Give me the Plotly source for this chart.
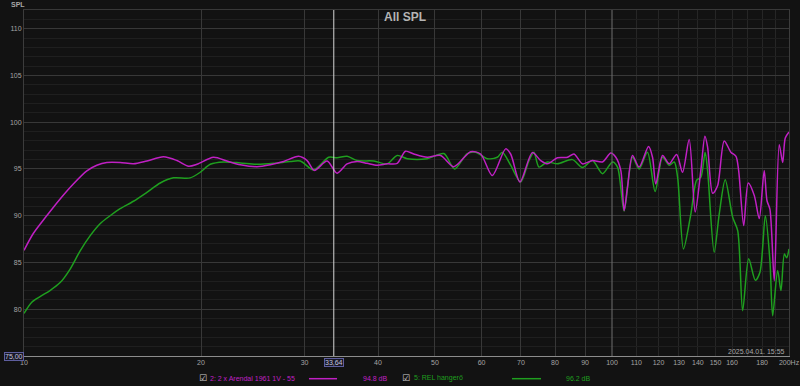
import numpy as np
import plotly.graph_objects as go

# ---------------- data ----------------
freq_arendal = [10.0, 10.37, 10.93, 11.52, 12.13, 12.79, 13.30, 13.83, 14.57, 15.35,
                16.18, 17.27, 18.20, 19.05, 19.68, 21.0, 22.14, 23.33, 24.90, 26.24,
                27.64, 29.32, 30.30, 31.18, 32.77, 34.08, 35.44, 36.86, 38.33, 39.87,
                41.46, 43.12, 44.55, 46.02, 48.50, 51.10, 53.84, 57.48, 59.78, 62.58,
                65.93, 67.24, 69.74, 73.21, 75.63, 77.65, 80.75, 83.98, 86.18, 89.07,
                92.63, 96.33, 99.52, 101.5, 103.5, 104.85, 106.25, 108.36, 111.2, 115.4,
                117.2, 118.7, 121.9, 125.1, 128.8, 131.8, 135.3, 138.5, 141.6, 143.9,
                145.4, 148.3, 151.2, 155.2, 159.3, 162.5, 164.2, 167.5, 170.5, 174.6,
                178.0, 181.5, 183.5, 185.6, 188.8, 192.5, 195.1, 197.1, 200.0]
spl_arendal = [86.3, 88.1, 90.0, 91.8, 93.4, 94.8, 95.4, 95.7, 95.7, 95.55,
               95.85, 96.3, 95.9, 95.3, 95.5, 96.25, 95.85, 95.45, 95.25, 95.45,
               95.8, 96.35, 95.9, 94.85, 95.85, 94.55, 95.55, 95.8, 95.6, 95.4,
               95.55, 95.6, 96.9, 96.6, 96.25, 96.45, 95.25, 96.85, 96.6, 94.3,
               97.15, 96.6, 93.6, 96.75, 95.9, 95.55, 96.2, 96.25, 96.6, 95.55,
               95.9, 95.75, 96.7, 96.25, 94.85, 90.55, 93.05, 96.45, 95.2, 97.4,
               96.25, 93.4, 96.45, 95.55, 96.55, 94.65, 98.15, 90.4, 94.85, 98.5,
               97.35, 92.4, 93.2, 98.0, 96.8, 96.35, 94.85, 88.95, 93.5, 92.15,
               89.7, 94.85, 91.6, 90.7, 83.05, 97.6, 95.7, 98.3, 98.95]

freq_rel = [10.0, 10.31, 10.65, 11.07, 11.52, 11.98, 12.46, 12.95, 13.47, 14.01,
            14.57, 15.35, 16.18, 17.05, 17.96, 19.17, 19.94, 20.74, 21.85, 23.33,
            24.90, 26.58, 28.38, 29.51, 31.09, 32.98, 34.08, 35.44, 36.86, 39.34,
            41.46, 43.12, 44.84, 48.50, 51.77, 53.98, 56.74, 58.62, 61.37, 63.82,
            65.09, 67.24, 69.93, 72.24, 73.67, 75.13, 77.65, 80.75, 85.64, 89.07,
            92.63, 96.33, 100.2, 102.2, 104.85, 108.36, 111.2, 114.9, 118.4, 121.9,
            125.1, 127.6, 129.3, 132.3, 136.2, 139.3, 141.6, 144.0, 145.4, 149.2,
            152.2, 155.8, 160.4, 163.6, 166.8, 170.8, 175.3, 178.5, 182.3, 185.6,
            187.6, 191.3, 193.8, 196.4, 198.2, 200.0]
spl_rel = [79.55, 80.75, 81.35, 82.0, 82.85, 84.3, 86.25, 87.85, 89.15, 90.0,
           90.75, 91.55, 92.5, 93.5, 94.05, 94.05, 94.65, 95.5, 95.75, 95.65,
           95.5, 95.6, 95.8, 95.85, 94.9, 96.25, 96.2, 96.35, 95.9, 95.85,
           95.55, 96.45, 96.1, 96.1, 96.65, 95.0, 96.65, 96.8, 96.1, 96.25,
           96.8, 95.4, 93.6, 95.9, 96.8, 95.2, 95.75, 95.55, 96.0, 95.15,
           95.9, 94.5, 95.75, 95.2, 90.5, 96.25, 95.0, 96.8, 92.6, 96.25,
           95.4, 95.75, 94.1, 86.45, 90.2, 93.8, 94.1, 96.8, 94.85, 86.1,
           90.2, 93.85, 89.85, 88.4, 79.85, 85.4, 83.1, 83.95, 90.0, 85.2,
           79.3, 84.15, 82.0, 85.9, 85.5, 86.45]

x_tickvals = [10, 20, 30, 40, 50, 60, 70, 80, 90, 100, 110, 120, 130, 140, 150, 160, 170, 180, 190, 200]
x_ticktext = ["10", "20", "30", "40", "50", "60", "70", "80", "90", "100", "110", "120",
              "130", "140", "150", "160", "", "180", "", "200Hz"]
x_major_grid = [20, 30, 40, 50, 60, 70, 80, 90]
x_fine_grid = [110, 120, 130, 140, 150, 160, 170, 180, 190]
y_tickvals = [80, 85, 90, 95, 100, 105, 110]

series_names = ["2: 2 x Arendal 1961 1V - 55", "5: REL hangerő"]
series_levels = ["94.8 dB", "96.2 dB"]
cursor_freq = 33.64
cursor_spl = "75,00"
title_text = "All SPL"
date_text = "2025.04.01. 15:55"

MAG = "#c020c4"
GRN = "#1f9f1f"
BG = "#121212"
FONT = "Liberation Sans"

fig = go.Figure()
fig.add_trace(go.Scatter(x=freq_rel, y=spl_rel, mode="lines",
                         line=dict(color=GRN, width=1.5, shape="spline", smoothing=0.8),
                         hoverinfo="skip", showlegend=False))
fig.add_trace(go.Scatter(x=freq_arendal, y=spl_arendal, mode="lines",
                         line=dict(color=MAG, width=1.5, shape="spline", smoothing=0.8),
                         hoverinfo="skip", showlegend=False))
# empty trace so the overlay axis (stronger grid lines) is drawn
fig.add_trace(go.Scatter(x=[], y=[], xaxis="x2", showlegend=False, hoverinfo="skip"))

xr = [1, np.log10(200)]
fig.update_layout(
    width=800, height=386,
    margin=dict(l=24, r=11, t=10, b=30, pad=0, autoexpand=False),
    paper_bgcolor=BG, plot_bgcolor=BG,
    font=dict(family=FONT, size=7, color="#a4a4a4"),
    hovermode=False,
    xaxis=dict(type="log", range=xr, tickmode="array", tickvals=x_tickvals, ticktext=x_ticktext,
               showgrid=False, zeroline=False, ticks="", showline=True, automargin=False,
               linecolor="#8c8c8c", linewidth=1,
               tickfont=dict(family=FONT, size=7, color="#a4a4a4"),
               minor=dict(tickmode="array", tickvals=x_fine_grid, showgrid=True,
                          gridcolor="#262626", gridwidth=1, ticks="")),
    xaxis2=dict(type="log", range=xr, overlaying="x", anchor="y", side="top",
                tickmode="array", tickvals=x_major_grid, showticklabels=False, automargin=False,
                showgrid=True, gridcolor="#383838", gridwidth=1, zeroline=False,
                ticks="", showline=True, linecolor="#383838", linewidth=1),
    yaxis=dict(range=[75, 112], tickmode="array", tickvals=y_tickvals, automargin=False,
               showgrid=True, gridcolor="#383838", gridwidth=1, zeroline=False,
               ticks="", showline=True, mirror=True, linecolor="#3c3c3c", linewidth=1,
               tickfont=dict(family=FONT, size=7, color="#a4a4a4"),
               minor=dict(tick0=75, dtick=1, showgrid=True, gridcolor="#1f1f1f", ticks="")),
)

# 100 Hz emphasis line and cursor line
fig.add_shape(type="line", xref="x", yref="paper", x0=100, x1=100, y0=0, y1=1,
              line=dict(color="#6e6e6e", width=1), layer="above")
fig.add_shape(type="line", xref="x", yref="paper", x0=cursor_freq, x1=cursor_freq, y0=0, y1=1,
              line=dict(color="#d6d6d6", width=1), layer="above")

# texts
fig.add_annotation(text="<b>" + title_text + "</b>", xref="paper", yref="paper", x=0.498, y=0.980,
                   showarrow=False, font=dict(family=FONT, size=12, color="#b4b4b4"),
                   xanchor="center", yanchor="middle")
fig.add_annotation(text="<b>SPL</b>", xref="paper", yref="paper", x=-0.019, y=1.017,
                   showarrow=False, font=dict(family=FONT, size=7, color="#a8a8a8"),
                   xanchor="left", yanchor="middle")
fig.add_annotation(text=date_text, xref="paper", yref="paper", x=0.997, y=0.012,
                   showarrow=False, font=dict(family=FONT, size=7, color="#a8a8a8"),
                   xanchor="right", yanchor="middle")
fig.add_annotation(text=cursor_spl, xref="paper", yref="paper", x=-0.0131, y=0.0,
                   showarrow=False, font=dict(family=FONT, size=7, color="#c4c4dc"),
                   bordercolor="#5e5e9e", borderwidth=1, borderpad=0, bgcolor="#181828",
                   xanchor="center", yanchor="middle")
fig.add_annotation(text=f"{cursor_freq:.2f}".replace(".", ","), xref="x", yref="paper",
                   x=np.log10(cursor_freq), y=-0.0188,
                   showarrow=False, font=dict(family=FONT, size=7, color="#c4c4dc"),
                   bordercolor="#5e5e9e", borderwidth=1, borderpad=0, bgcolor="#181828",
                   xanchor="center", yanchor="middle")

# legend row
leg_y = -0.0636
legend_layout = [
    dict(box=0.234, name=0.2401, l0=0.3725, l1=0.4092, lvl=0.4405, color=MAG),
    dict(box=0.499, name=0.5072, l0=0.6379, l1=0.6758, lvl=0.7059, color=GRN),
]
for name, lvl, pos in zip(series_names, series_levels, legend_layout):
    fig.add_annotation(text="☑", xref="paper", yref="paper", x=pos["box"], y=leg_y,
                       showarrow=False, font=dict(family="DejaVu Sans", size=9, color="#d0d0d0"),
                       xanchor="center", yanchor="middle")
    fig.add_annotation(text=name, xref="paper", yref="paper", x=pos["name"], y=leg_y,
                       showarrow=False, font=dict(family=FONT, size=7, color=pos["color"]),
                       xanchor="left", yanchor="middle")
    fig.add_shape(type="line", xref="paper", yref="paper", x0=pos["l0"], x1=pos["l1"],
                  y0=leg_y - 0.002, y1=leg_y - 0.002, line=dict(color=pos["color"], width=1.5))
    fig.add_annotation(text=lvl, xref="paper", yref="paper", x=pos["lvl"], y=leg_y,
                       showarrow=False, font=dict(family=FONT, size=7, color=pos["color"]),
                       xanchor="left", yanchor="middle")

fig.write_html("out.html", config=dict(displayModeBar=False, staticPlot=True))
